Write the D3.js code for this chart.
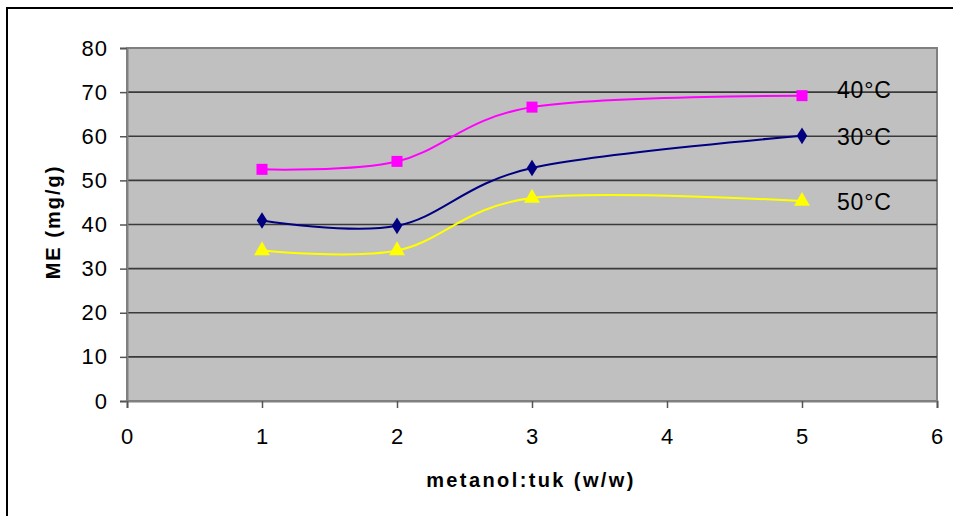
<!DOCTYPE html>
<html>
<head>
<meta charset="utf-8">
<script src="https://cdn.jsdelivr.net/npm/d3@7"></script>
<style>
  body { margin: 0; background: #fff; }
  svg { display: block; font-family: Arial, "Liberation Sans", sans-serif; }
</style>
</head>
<body>
<div id="chart"></div>
<script>
var width = 953;
var height = 516;

// data
var ratios = [1, 2, 3, 5];
var me30 = [40.9, 39.7, 52.8, 60.1];
var me40 = [52.5, 54.3, 66.6, 69.2];
var me50 = [34.1, 34.1, 46.0, 45.3];
var seriesNames = ["30°C", "40°C", "50°C"];
var xTicks = [0, 1, 2, 3, 4, 5, 6];
var yTicks = [0, 10, 20, 30, 40, 50, 60, 70, 80];

var series = [
  { name: seriesNames[0], values: me30, color: "#000080", symbol: d3.symbolDiamond, size: 95, labelY: 59.9 },
  { name: seriesNames[1], values: me40, color: "#FF00FF", symbol: d3.symbolSquare, size: 121, labelY: 70.6 },
  { name: seriesNames[2], values: me50, color: "#FFFF00", symbol: d3.symbolTriangle, size: 110, labelY: 45.1 }
];

var margin = { left: 127, top: 48, right: 16, bottom: 115 };
var plotW = width - margin.left - margin.right;
var plotH = height - margin.top - margin.bottom;

var svg = d3.select("#chart")
  .append("svg")
  .attr("width", width)
  .attr("height", height);

// outer frame
svg.append("rect")
  .attr("x", 7).attr("y", 8)
  .attr("width", width + 10).attr("height", height + 10)
  .attr("fill", "#fff")
  .attr("stroke", "#000")
  .attr("stroke-width", 2);

var x = d3.scaleLinear().domain([0, 6]).range([0, plotW]);
var y = d3.scaleLinear().domain([0, 80]).range([plotH, 0]);

var g = svg.append("g")
  .attr("transform", "translate(" + margin.left + "," + margin.top + ")");

g.append("rect")
  .attr("width", plotW)
  .attr("height", plotH)
  .attr("fill", "#C0C0C0")
  .attr("stroke", "#808080")
  .attr("stroke-width", 2);

// gridlines
g.selectAll(".grid")
  .data(yTicks.filter(function(d) { return d > 0 && d < 80; }))
  .enter().append("line")
    .attr("x1", 0).attr("x2", plotW)
    .attr("y1", function(d) { return y(d); })
    .attr("y2", function(d) { return y(d); })
    .attr("stroke", "#3a3a3a")
    .attr("stroke-width", 1.6);

var yAxis = d3.axisLeft(y).tickValues(yTicks).tickFormat(d3.format("d")).tickSize(7).tickPadding(12);
var xAxis = d3.axisBottom(x).tickValues(xTicks).tickFormat(d3.format("d")).tickSize(7).tickPadding(20);

var ya = g.append("g").call(yAxis);
var xa = g.append("g").attr("transform", "translate(0," + plotH + ")").call(xAxis);

[ya, xa].forEach(function(a) {
  a.attr("font-size", null).attr("font-family", null);
  a.select(".domain").attr("stroke", "#808080").attr("stroke-width", 2);
  a.selectAll(".tick line").attr("stroke", "#555").attr("stroke-width", 1.5);
  a.selectAll(".tick text")
    .attr("fill", "#000")
    .style("font-size", "22px")
    .style("letter-spacing", "1px");
});
xa.selectAll(".tick text").attr("dy", "0.71em");

var line = d3.line()
  .x(function(d, i) { return x(ratios[i]); })
  .y(function(d) { return y(d); })
  .curve(d3.curveCardinal.tension(0));

series.forEach(function(s) {
  g.append("path")
    .datum(s.values)
    .attr("fill", "none")
    .attr("stroke", s.color)
    .attr("stroke-width", 2)
    .attr("d", line);

  g.selectAll(null)
    .data(s.values)
    .enter().append("path")
      .attr("d", d3.symbol().type(s.symbol).size(s.size))
      .attr("transform", function(d, i) {
        return "translate(" + x(ratios[i]) + "," + y(d) + ")" +
          (s.symbol === d3.symbolDiamond ? " scale(1,0.92)" : "");
      })
      .attr("fill", s.color);

  g.append("text")
    .attr("x", 710)
    .attr("y", y(s.labelY))
    .attr("dy", "0.36em")
    .style("font-size", "23px")
    .style("letter-spacing", "0.8px")
    .attr("fill", "#000")
    .text(s.name);
});

// axis titles
svg.append("text")
  .attr("transform", "translate(60,222) rotate(-90)")
  .attr("text-anchor", "middle")
  .style("font-size", "20px")
  .style("font-weight", "bold")
  .style("letter-spacing", "2px")
  .text("ME (mg/g)");

svg.append("text")
  .attr("x", 531)
  .attr("y", 487)
  .attr("text-anchor", "middle")
  .style("font-size", "20px")
  .style("font-weight", "bold")
  .style("letter-spacing", "2.4px")
  .text("metanol:tuk (w/w)");
</script>
</body>
</html>
